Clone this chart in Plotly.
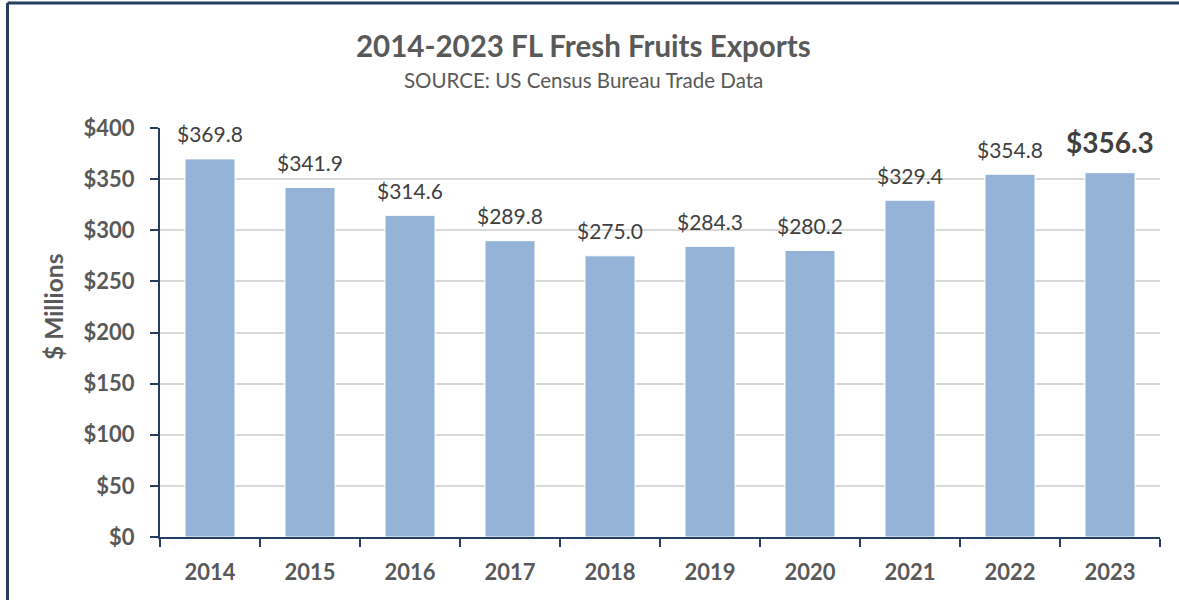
import plotly.graph_objects as go

years = ["2014", "2015", "2016", "2017", "2018", "2019", "2020", "2021", "2022", "2023"]
exports = [369.8, 341.9, 314.6, 289.8, 275.0, 284.3, 280.2, 329.4, 354.8, 356.3]
y_ticks = [0, 50, 100, 150, 200, 250, 300, 350, 400]
y_tick_labels = ["$" + str(v) for v in y_ticks]

FONT = "Lato"
NAVY = "#243F60"
GRAY = "#595959"
LABEL = "#404040"

W, H = 1179, 600
ML, MR, MT, MB = 160, 19, 128, 63
H_PLOT = H - MT - MB
W_PLOT = W - ML - MR


def py(pix):
    return (H - MB - pix) / H_PLOT


def px(pix):
    return (pix - ML) / W_PLOT


fig = go.Figure()
fig.add_trace(go.Bar(
    x=years, y=exports,
    marker=dict(color="#95B3D7", line=dict(color="white", width=1)),
    hoverinfo="x+y",
))

for i, v in enumerate(exports):
    last = i == len(exports) - 1
    fig.add_annotation(
        x=i, y=v, xref="x", yref="y",
        text=f"<b>${v:.1f}</b>" if last else f"${v:.1f}",
        showarrow=False, yanchor="middle",
        yshift=31 if last else 25,
        font=dict(family=FONT, size=28 if last else 21, color=LABEL),
    )

fig.add_annotation(
    x=px(583), y=py(45), xref="paper", yref="paper", xanchor="center", yanchor="middle",
    text="<b>2014-2023 FL Fresh Fruits Exports</b>", showarrow=False,
    font=dict(family=FONT, size=29.5, color=GRAY),
)
fig.add_annotation(
    x=px(583), y=py(80), xref="paper", yref="paper", xanchor="center", yanchor="middle",
    text="SOURCE: US Census Bureau Trade Data", showarrow=False,
    font=dict(family=FONT, size=20.5, color=GRAY),
)
fig.add_annotation(
    x=px(53), y=py(307), xref="paper", yref="paper", xanchor="center", yanchor="middle",
    text="<b>$ Millions</b>", showarrow=False, textangle=-90,
    font=dict(family=FONT, size=24.5, color=GRAY),
)

fig.update_layout(
    width=W, height=H,
    margin=dict(l=ML, r=MR, t=MT, b=MB),
    paper_bgcolor="white", plot_bgcolor="white",
    bargap=0.5,
    showlegend=False,
)

fig.update_xaxes(
    type="category", range=[-0.5, len(years) - 0.5],
    showline=True, linecolor=NAVY, linewidth=2,
    ticks="outside", tickson="boundaries", ticklen=8, tickcolor=NAVY, tickwidth=2,
    tickfont=dict(family=FONT, size=22, color=GRAY), ticklabelstandoff=15,
    tickprefix="<b>", ticksuffix="</b>", showgrid=False, tickangle=0,
)
fig.update_yaxes(
    range=[0, 400], tickvals=y_ticks, ticktext=["<b>" + t + "</b>" for t in y_tick_labels],
    showline=True, linecolor=NAVY, linewidth=2,
    ticks="outside", ticklen=8, tickcolor=NAVY, tickwidth=2,
    tickfont=dict(family=FONT, size=22, color=GRAY), ticklabelstandoff=11,
    showgrid=True, gridcolor="#D9D9D9", gridwidth=1.5, zeroline=False,
)

# outer chart border (left and top edges visible)
fig.add_shape(type="line", xref="paper", yref="paper",
              x0=px(7.5), y0=py(700), x1=px(7.5), y1=py(3), line=dict(color=NAVY, width=3))
fig.add_shape(type="line", xref="paper", yref="paper",
              x0=px(7.5), y0=py(3), x1=px(1300), y1=py(3), line=dict(color=NAVY, width=3))

fig.write_html("out.html", config={"displayModeBar": False},
               post_script="document.body.style.margin='0';")
